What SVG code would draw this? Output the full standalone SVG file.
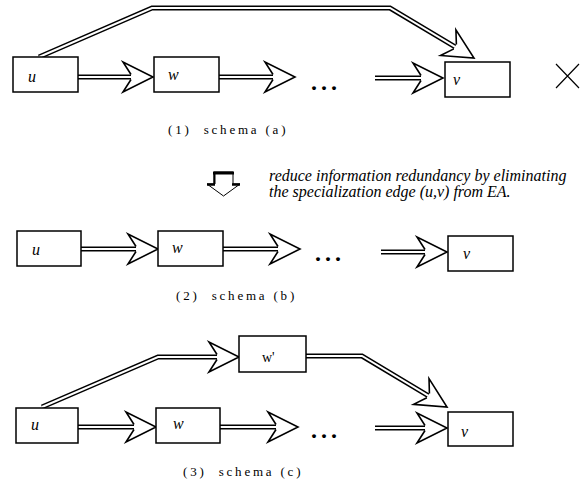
<svg xmlns="http://www.w3.org/2000/svg" xmlns:xlink="http://www.w3.org/1999/xlink" width="581" height="485" viewBox="0 0 581 485">
<style>
.box{fill:#fff;stroke:#000;stroke-width:1.5}
.so{fill:none;stroke:#000;stroke-width:5;stroke-linejoin:miter}
.si{fill:none;stroke:#fff;stroke-width:2;stroke-linejoin:miter}
.lbl{font-family:"Liberation Serif",serif;font-style:italic;font-size:16px;fill:#000}
.lbl2{font-family:"Liberation Serif",serif;font-size:14px;fill:#000}
.cap{font-family:"Liberation Serif",serif;font-size:13px;letter-spacing:2.8px;fill:#000;white-space:pre}
.dots{font-family:"Liberation Serif",serif;font-weight:bold;font-size:24px;letter-spacing:4px;fill:#000}
.note{font-family:"Liberation Serif",serif;font-style:italic;font-size:16px;fill:#000}
</style>
<defs>
<path id="ah" d="M-22,-2.5 L-30,-15 L0,0 L-30,15 L-22,2.5" fill="#fff" stroke="#000" stroke-width="1.6" stroke-linejoin="miter"/>
</defs>
<rect width="581" height="485" fill="#fff"/>

<g id="connectors">
<!-- schema a -->
<path class="so" d="M78,77 H131"/><path class="si" d="M78,77 H131"/><use xlink:href="#ah" transform="translate(153,77)"/>
<path class="so" d="M219,77 H273"/><path class="si" d="M219,77 H273"/><use xlink:href="#ah" transform="translate(295,77)"/>
<path class="so" d="M375,78 H421"/><path class="si" d="M375,78 H421"/><use xlink:href="#ah" transform="translate(443,78)"/>
<path class="so" d="M39,57 L152,8 H390 L455.1,46.8"/><path class="si" d="M39,57 L152,8 H390 L455.1,46.8"/><use xlink:href="#ah" transform="translate(474,58) rotate(30.8)"/>
<!-- schema b -->
<path class="so" d="M81,249 H136"/><path class="si" d="M81,249 H136"/><use xlink:href="#ah" transform="translate(158,249)"/>
<path class="so" d="M223,249 H278"/><path class="si" d="M223,249 H278"/><use xlink:href="#ah" transform="translate(300,249)"/>
<path class="so" d="M381,252 H425"/><path class="si" d="M381,252 H425"/><use xlink:href="#ah" transform="translate(447,252)"/>
<!-- schema c -->
<path class="so" d="M78,427 H134"/><path class="si" d="M78,427 H134"/><use xlink:href="#ah" transform="translate(156,427)"/>
<path class="so" d="M220,427 H276"/><path class="si" d="M220,427 H276"/><use xlink:href="#ah" transform="translate(298,427)"/>
<path class="so" d="M375,428 H425"/><path class="si" d="M375,428 H425"/><use xlink:href="#ah" transform="translate(447,428)"/>
<path class="so" d="M42,407 L158,357 H217"/><path class="si" d="M42,407 L158,357 H217"/><use xlink:href="#ah" transform="translate(239,357)"/>
<path class="so" d="M306,356 H362 L428.1,395.7"/><path class="si" d="M306,356 H362 L428.1,395.7"/><use xlink:href="#ah" transform="translate(447,407) rotate(31)"/>
</g>

<g id="a-u"><rect class="box" x="13" y="57" width="65" height="35"/><text class="lbl" x="28" y="82">u</text></g>
<g id="a-w"><rect class="box" x="154" y="57" width="65" height="35"/><text class="lbl" x="168" y="80">w</text></g>
<g id="a-v"><rect class="box" x="445" y="62" width="65" height="35"/><text class="lbl" x="453" y="85">v</text></g>
<text class="dots" x="311" y="90">...</text>
<g id="cross"><path d="M556,64 L579,88 M556,88 L579,64" stroke="#000" stroke-width="1.2" fill="none"/></g>
<text class="cap" x="168" y="134">(1)  schema (a)</text>

<g id="down-icon">
<path d="M214,172 H233 V184 H240 L223.5,196 L207,184 H214 Z" fill="#fff" stroke="#000" stroke-width="1"/>
<path d="M213,173 H234" stroke="#000" stroke-width="3"/>
<path d="M214.5,172 V184" stroke="#000" stroke-width="2"/>
<path d="M207,184.5 H215 M232,184.5 H240" stroke="#000" stroke-width="2.5"/>
</g>
<text class="note" x="269" y="181">reduce information redundancy by eliminating</text>
<text class="note" x="269" y="197">the specialization edge (u,v) from EA.</text>

<g id="b-u"><rect class="box" x="17" y="231" width="64" height="35"/><text class="lbl" x="32" y="255">u</text></g>
<g id="b-w"><rect class="box" x="158" y="231" width="65" height="35"/><text class="lbl" x="172" y="253">w</text></g>
<g id="b-v"><rect class="box" x="448" y="236" width="65" height="35"/><text class="lbl" x="463" y="259">v</text></g>
<text class="dots" x="315" y="261">...</text>
<text class="cap" x="176" y="300">(2)  schema (b)</text>

<g id="c-wp"><rect class="box" x="239" y="336" width="67" height="36"/><text class="lbl2" x="262" y="362">w'</text></g>
<g id="c-u"><rect class="box" x="16" y="408" width="62" height="35"/><text class="lbl" x="31" y="430">u</text></g>
<g id="c-w"><rect class="box" x="156" y="408" width="64" height="35"/><text class="lbl" x="173" y="429">w</text></g>
<g id="c-v"><rect class="box" x="448" y="412" width="65" height="34"/><text class="lbl" x="461" y="437">v</text></g>
<text class="dots" x="311" y="438">...</text>
<text class="cap" x="183" y="476">(3)  schema (c)</text>
</svg>
